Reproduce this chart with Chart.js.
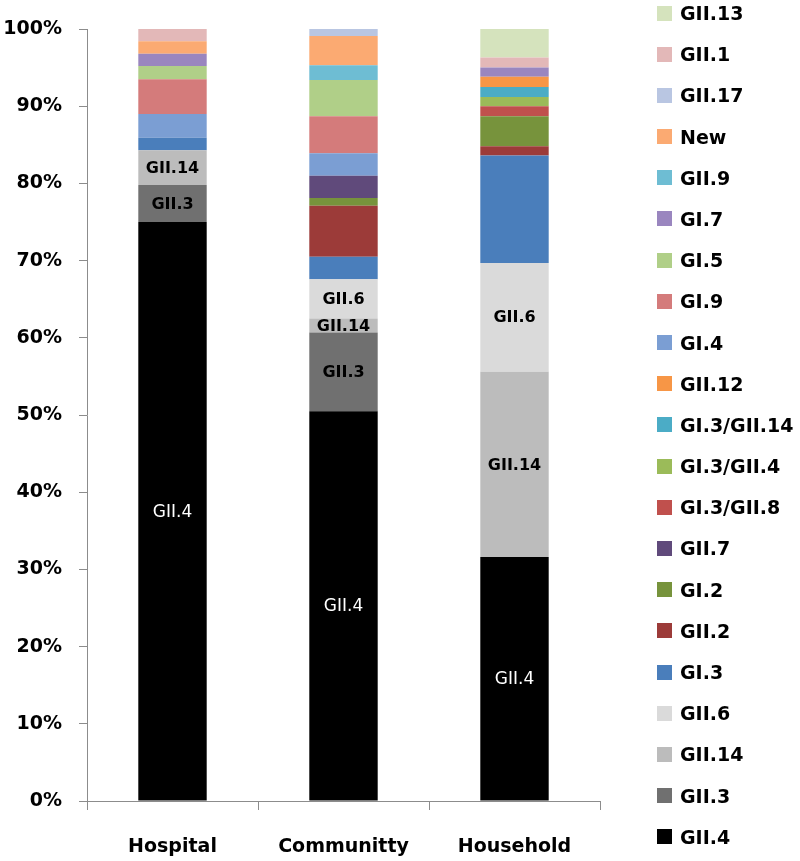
<!DOCTYPE html>
<html>
<head>
<meta charset="utf-8">
<script src="https://cdn.jsdelivr.net/npm/chart.js@4.4.1/dist/chart.umd.min.js"></script>
<style>
  body { margin: 0; background: #fff; }
  #wrap { position: relative; width: 800px; height: 861px; }
  #leyenda {
    position: absolute; left: 657px; top: -7.6px;
    font: bold 19px "DejaVu Sans", sans-serif; color: #000;
  }
  .item { display: flex; align-items: center; height: 41.2px; white-space: nowrap; }
  .caja { width: 15px; height: 15px; margin-right: 8px; flex: none; }
</style>
</head>
<body>
<div id="wrap">
  <canvas id="grafico"></canvas>
  <div id="leyenda"></div>
</div>
<script>
const categorias = ["Hospital", "Communitty", "Household"];

// stacking order, bottom to top
const genotipos = [
  "GII.4", "GII.3", "GII.14", "GII.6", "GI.3", "GII.2", "GI.2", "GII.7",
  "GI.3/GII.8", "GI.3/GII.4", "GI.3/GII.14", "GII.12", "GI.4", "GI.9",
  "GI.5", "GI.7", "GII.9", "New", "GII.17", "GII.1", "GII.13"
];

// percentages per genotype, same order as genotipos
const hospital  = [75.0, 4.8, 4.5, 0, 1.6, 0, 0, 0, 0, 0, 0, 0, 3.1, 4.5, 1.7, 1.6, 0, 1.6, 0, 1.6, 0];
const community = [50.5, 10.2, 1.8, 5.1, 2.9, 6.6, 1.0, 2.9, 0, 0, 0, 0, 2.9, 4.8, 4.7, 0, 1.9, 3.8, 0.9, 0, 0];
const household = [31.6, 0, 24.0, 14.1, 13.9, 1.2, 3.9, 0, 1.3, 1.2, 1.3, 1.3, 0, 0, 0, 1.2, 0, 0, 0, 1.3, 3.7];

const colores = [
  "#000000", "#707070", "#bcbcbc", "#dadada", "#4a7ebb", "#9c3b39", "#77933c", "#604a7b",
  "#c0504d", "#9bbb59", "#4bacc6", "#f79646", "#7b9ed3", "#d47b7b",
  "#b0cf88", "#9a86bf", "#6ebdd3", "#fbaa72", "#b9c6e2", "#e3b8b8", "#d5e3bd"
];

const etiquetados = ["GII.4", "GII.3", "GII.14", "GII.6"];
const ticksY = [0, 10, 20, 30, 40, 50, 60, 70, 80, 90, 100];

const datasets = genotipos.map(function (g, i) {
  return {
    label: g,
    data: [hospital[i], community[i], household[i]],
    backgroundColor: colores[i],
    borderWidth: 0,
    categoryPercentage: 1,
    barPercentage: 0.4,
  };
});

const etiquetasBarras = {
  id: "etiquetasBarras",
  afterDatasetsDraw(chart) {
    const ctx = chart.ctx;
    ctx.save();
    ctx.textAlign = "center";
    ctx.textBaseline = "middle";
    chart.data.datasets.forEach(function (ds, i) {
      if (!etiquetados.includes(ds.label)) return;
      const meta = chart.getDatasetMeta(i);
      meta.data.forEach(function (bar, j) {
        if (!ds.data[j]) return;
        const p = bar.getProps(["x", "y", "base"], true);
        if (ds.label === "GII.4") {
          ctx.fillStyle = "#ffffff";
          ctx.font = '17px "DejaVu Sans"';
        } else {
          ctx.fillStyle = "#000000";
          ctx.font = 'bold 16px "DejaVu Sans"';
        }
        ctx.fillText(ds.label, p.x, (p.y + p.base) / 2 + 1);
      });
    });
    ctx.restore();
  },
};

const grafico = new Chart(document.getElementById("grafico"), {
  type: "bar",
  data: { labels: categorias, datasets: datasets },
  options: {
    responsive: true,
    maintainAspectRatio: false,
    animation: false,
    layout: { padding: { top: 29, right: 200, left: 0, bottom: 0 } },
    plugins: { legend: { display: false }, tooltip: { enabled: false } },
    scales: {
      x: {
        stacked: true,
        offset: true,
        afterFit: function (s) { s.height = 60; },
        grid: { offset: true, drawOnChartArea: false, tickLength: 9, color: "#8c8c8c" },
        border: { color: "#8c8c8c" },
        ticks: { color: "#000", padding: 26, font: { family: "DejaVu Sans", size: 19, weight: "bold" } },
      },
      y: {
        stacked: true,
        min: 0,
        max: 100,
        afterFit: function (s) { s.width = 87; },
        afterBuildTicks: function (s) { s.ticks = ticksY.map(function (v) { return { value: v }; }); },
        grid: { drawOnChartArea: false, tickLength: 8, color: "#8c8c8c" },
        border: { color: "#8c8c8c" },
        ticks: {
          color: "#000",
          padding: 17,
          font: { family: "DejaVu Sans", size: 19, weight: "bold" },
          callback: function (v) { return v + "%"; },
        },
      },
    },
  },
  plugins: [etiquetasBarras],
});

// legend, top item is the last series
const leyenda = document.getElementById("leyenda");
grafico.data.datasets.slice().reverse().forEach(function (ds) {
  leyenda.insertAdjacentHTML("beforeend",
    `<div class="item"><span class="caja" style="background:${ds.backgroundColor}"></span>${ds.label}</div>`);
});
</script>
</body>
</html>
